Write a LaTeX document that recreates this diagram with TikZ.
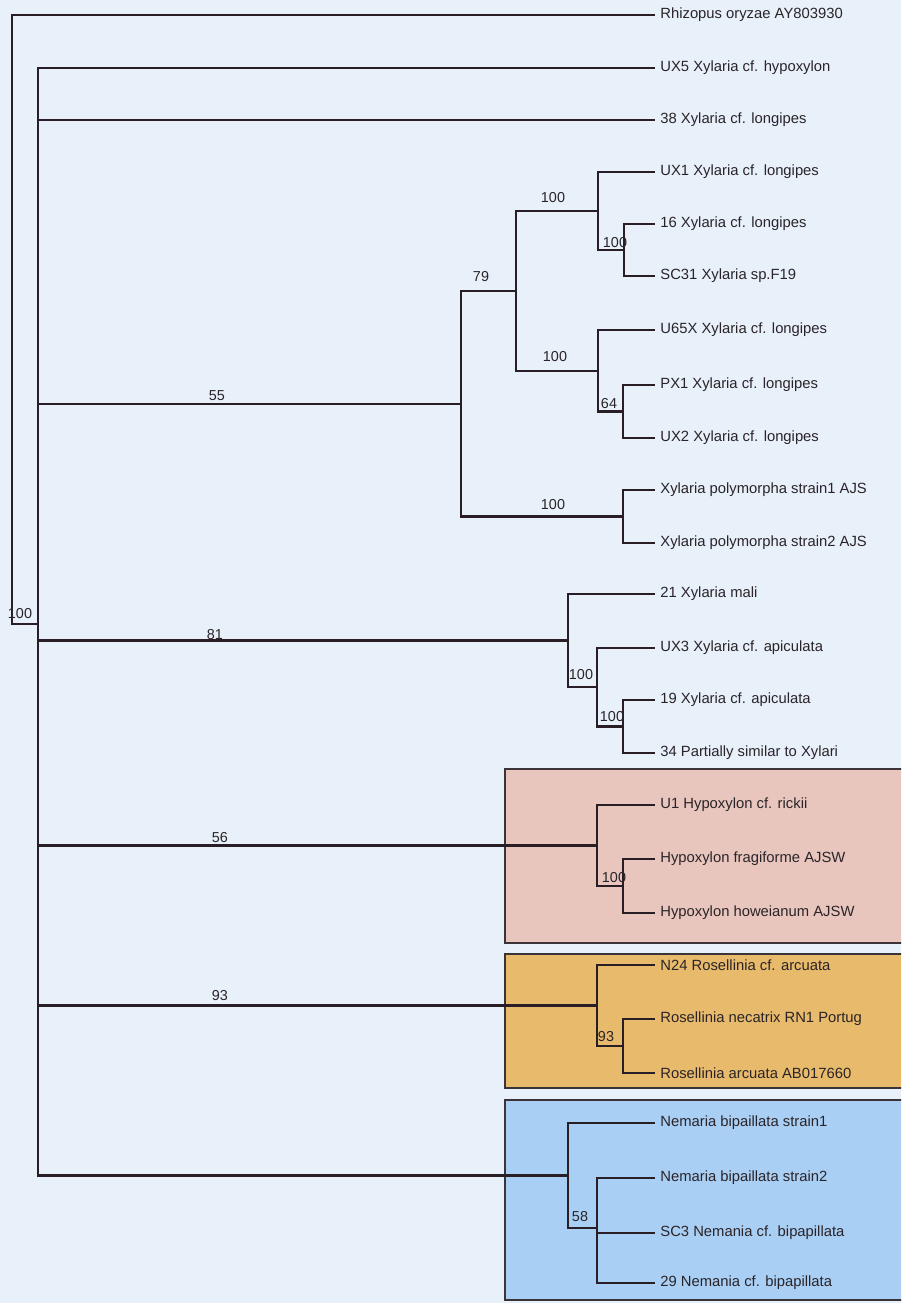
\documentclass[tikz,border=0pt]{standalone}
\usepackage{fontspec}
\setmainfont{Liberation Sans}
\definecolor{bgc}{HTML}{E8F0FA}
\definecolor{pinkc}{HTML}{E8C6BE}
\definecolor{orangec}{HTML}{E8BA6C}
\definecolor{bluec}{HTML}{AACFF4}
\definecolor{linec}{HTML}{2A1E26}
\definecolor{boxc}{HTML}{3A3438}
\definecolor{textc}{HTML}{2A2428}
\begin{document}
\begin{tikzpicture}[x=0.5pt,y=-0.5pt,
  br/.style={draw=linec, line width=1.15pt},
  leaf/.style={anchor=west, inner xsep=2.5pt, inner ysep=0pt, font=\fontsize{7.4}{9}\selectfont, text=textc},
  supp/.style={font=\fontsize{7.2}{9}\selectfont, inner sep=0pt, text=textc},
  grp/.style={draw=boxc, line width=0.8pt}]
\useasboundingbox (0,0) rectangle (901,1303);
\fill[bgc] (0,0) rectangle (901,1303);
\clip (0,0) rectangle (901,1303);
% group boxes
\filldraw[grp, fill=pinkc] (505,769) rectangle (912,943);
\filldraw[grp, fill=orangec] (505,954) rectangle (912,1088);
\filldraw[grp, fill=bluec] (505,1100) rectangle (912,1300);
% leaves
\node[leaf] (L0) at (655,15) {Rhizopus oryzae AY803930};
\node[leaf] (L1) at (655,68) {UX5 Xylaria cf. hypoxylon};
\node[leaf] (L2) at (655,120) {38 Xylaria cf. longipes};
\node[leaf] (L3) at (655,172) {UX1 Xylaria cf. longipes};
\node[leaf] (L4) at (655,224) {16 Xylaria cf. longipes};
\node[leaf] (L5) at (655,276) {SC31 Xylaria sp.F19};
\node[leaf] (L6) at (655,330) {U65X Xylaria cf. longipes};
\node[leaf] (L7) at (655,385) {PX1 Xylaria cf. longipes};
\node[leaf] (L8) at (655,438) {UX2 Xylaria cf. longipes};
\node[leaf] (L9) at (655,490) {Xylaria polymorpha strain1 AJS};
\node[leaf] (L10) at (655,543) {Xylaria polymorpha strain2 AJS};
\node[leaf] (L11) at (655,594) {21 Xylaria mali};
\node[leaf] (L12) at (655,648) {UX3 Xylaria cf. apiculata};
\node[leaf] (L13) at (655,700) {19 Xylaria cf. apiculata};
\node[leaf] (L14) at (655,753) {34 Partially similar to Xylari};
\node[leaf] (L15) at (655,805) {U1 Hypoxylon cf. rickii};
\node[leaf] (L16) at (655,859) {Hypoxylon fragiforme AJSW};
\node[leaf] (L17) at (655,913) {Hypoxylon howeianum AJSW};
\node[leaf] (L18) at (655,965) {N24 Rosellinia cf. arcuata};
\node[leaf] (L19) at (655,1019) {Rosellinia necatrix RN1 Portug};
\node[leaf] (L20) at (655,1073) {Rosellinia arcuata AB017660};
\node[leaf] (L21) at (655,1123) {Nemaria bipaillata strain1};
\node[leaf] (L22) at (655,1178) {Nemaria bipaillata strain2};
\node[leaf] (L23) at (655,1233) {SC3 Nemania cf. bipapillata};
\node[leaf] (L24) at (655,1283) {29 Nemania cf. bipapillata};
% internal nodes
\coordinate (root) at (12,319);
\coordinate (nMain) at (38,624);
\coordinate (n16) at (624,250);
\coordinate (nUX1) at (598,211);
\coordinate (n64) at (623,411.5);
\coordinate (nU65) at (598,370.75);
\coordinate (n79) at (516,290.9);
\coordinate (nXp) at (623,516.5);
\coordinate (n55) at (461,403.7);
\coordinate (n19) at (623,726.5);
\coordinate (nUX3) at (597,687.25);
\coordinate (n81) at (568,640.6);
\coordinate (nHf) at (623,886);
\coordinate (n56) at (597,845.5);
\coordinate (nRn) at (623,1046);
\coordinate (n93) at (597,1005.5);
\coordinate (nN2) at (597,1228);
\coordinate (nNem) at (568,1175.5);
% branches
\draw[br] (root) |- (L0.west);
\draw[br] (root) |- (nMain);
\draw[br] (nMain) |- (L1.west);
\draw[br] (nMain) |- (L2.west);
\draw[br] (nMain) |- (n55);
\draw[br] (nMain) |- (n81);
\draw[br] (nMain) |- (n56);
\draw[br] (nMain) |- (n93);
\draw[br] (nMain) |- (nNem);
\draw[br] (n55) |- (n79);
\draw[br] (n55) |- (nXp);
\draw[br] (n79) |- (nUX1);
\draw[br] (n79) |- (nU65);
\draw[br] (nUX1) |- (L3.west);
\draw[br] (nUX1) |- (n16);
\draw[br] (n16) |- (L4.west);
\draw[br] (n16) |- (L5.west);
\draw[br] (nU65) |- (L6.west);
\draw[br] (nU65) |- (n64);
\draw[br] (n64) |- (L7.west);
\draw[br] (n64) |- (L8.west);
\draw[br] (nXp) |- (L9.west);
\draw[br] (nXp) |- (L10.west);
\draw[br] (n81) |- (L11.west);
\draw[br] (n81) |- (nUX3);
\draw[br] (nUX3) |- (L12.west);
\draw[br] (nUX3) |- (n19);
\draw[br] (n19) |- (L13.west);
\draw[br] (n19) |- (L14.west);
\draw[br] (n56) |- (L15.west);
\draw[br] (n56) |- (nHf);
\draw[br] (nHf) |- (L16.west);
\draw[br] (nHf) |- (L17.west);
\draw[br] (n93) |- (L18.west);
\draw[br] (n93) |- (nRn);
\draw[br] (nRn) |- (L19.west);
\draw[br] (nRn) |- (L20.west);
\draw[br] (nNem) |- (L21.west);
\draw[br] (nNem) |- (nN2);
\draw[br] (nN2) |- (L22.west);
\draw[br] (nN2) |- (L23.west);
\draw[br] (nN2) |- (L24.west);
% support values
\node[supp] (s0) at (20,614) {100};
\node[supp] (s1) at (217,396) {55};
\node[supp] (s2) at (481,277) {79};
\node[supp] (s3) at (553,198) {100};
\node[supp] (s4) at (615,243) {100};
\node[supp] (s5) at (555,357) {100};
\node[supp] (s6) at (609,404) {64};
\node[supp] (s7) at (553,505) {100};
\node[supp] (s8) at (215,635) {81};
\node[supp] (s9) at (581,675) {100};
\node[supp] (s10) at (612,717) {100};
\node[supp] (s11) at (220,838) {56};
\node[supp] (s12) at (614,878) {100};
\node[supp] (s13) at (220,996) {93};
\node[supp] (s14) at (606,1037) {93};
\node[supp] (s15) at (580,1217) {58};
\end{tikzpicture}
\end{document}
